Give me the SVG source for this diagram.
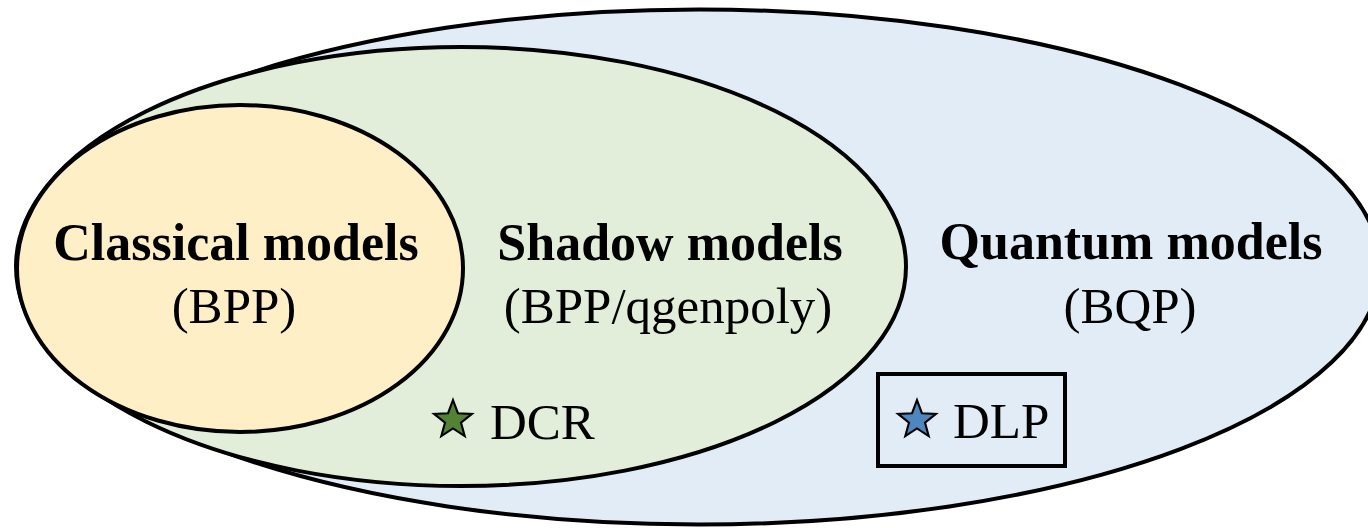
<svg xmlns="http://www.w3.org/2000/svg" width="1368" height="528" viewBox="0 0 1368 528">
  <style>
    .region { stroke: #000; stroke-width: 4; }
    .title { font-family: "Liberation Serif", "Times New Roman", serif; font-weight: bold; font-size: 52px; fill: #000; text-anchor: middle; }
    .sub { font-family: "Liberation Serif", "Times New Roman", serif; font-size: 51px; fill: #000; text-anchor: middle; }
    .item { font-family: "Liberation Serif", "Times New Roman", serif; font-size: 51px; fill: #000; }
    .star { stroke: #000; stroke-width: 2; stroke-linejoin: miter; }
  </style>
  <defs>
    <path id="star" d="M0,-19 L4.70,-6.47 L18.07,-5.87 L7.61,2.47 L11.17,15.37 L0,8 L-11.17,15.37 L-7.61,2.47 L-18.07,-5.87 L-4.70,-6.47 Z"/>
  </defs>

  <g id="quantum">
    <ellipse class="region" cx="698.5" cy="267" rx="681.5" ry="257.5" fill="#E2ECF7"/>
    <text class="title" x="1131" y="259">Quantum models</text>
    <text class="sub" x="1130" y="323">(BQP)</text>
  </g>

  <g id="shadow">
    <ellipse class="region" cx="461" cy="266.5" rx="445" ry="219.5" fill="#E2EEDA"/>
    <text class="title" x="670" y="260">Shadow models</text>
    <text class="sub" x="668" y="323">(BPP/qgenpoly)</text>
  </g>

  <g id="classical">
    <ellipse class="region" cx="240" cy="268.5" rx="223" ry="163.5" fill="#FFEFC6"/>
    <text class="title" x="236" y="260">Classical models</text>
    <text class="sub" x="234" y="323">(BPP)</text>
  </g>

  <g id="dcr">
    <use href="#star" class="star" fill="#548235" transform="translate(453,420) scale(1.05)"/>
    <text class="item" x="490" y="439">DCR</text>
  </g>

  <g id="dlp">
    <rect x="878" y="374" width="187" height="92" fill="none" stroke="#000" stroke-width="4"/>
    <use href="#star" class="star" fill="#4E86BE" transform="translate(917,420) scale(1.05)"/>
    <text class="item" x="953" y="438">DLP</text>
  </g>

  <g id="connectors"/>
</svg>
